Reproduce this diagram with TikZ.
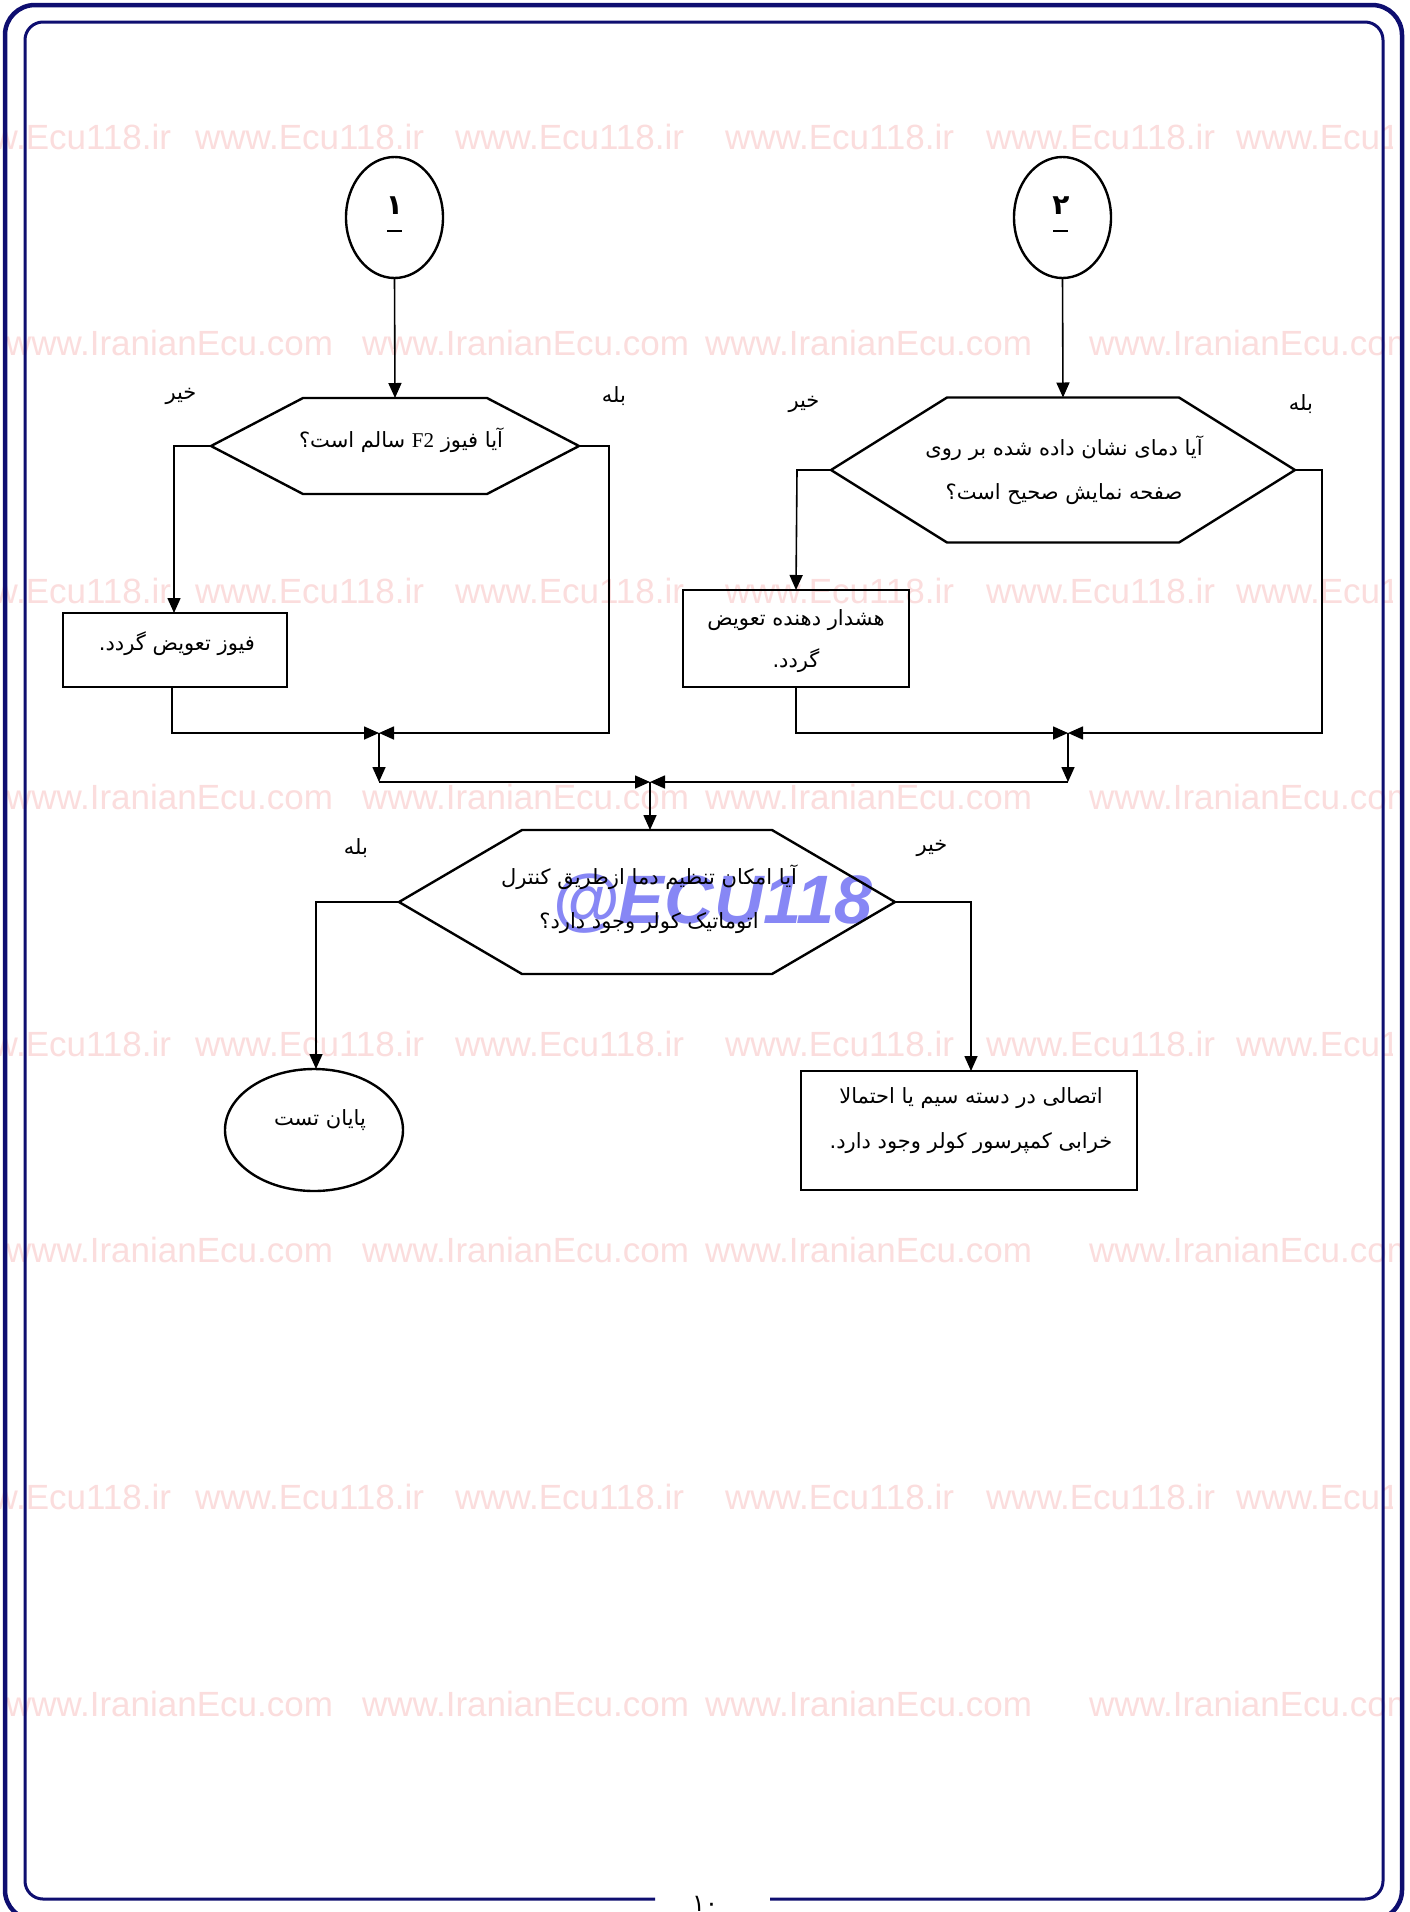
\documentclass[tikz,border=0pt]{standalone}
\usepackage{fontspec}
\usetikzlibrary{arrows.meta,calc,shapes.geometric}
\TeXXeTstate=1
\newfontfamily\fa[Script=Arabic]{DejaVu Sans}
\newfontfamily\wmf{Liberation Sans}
\newfontfamily\latf{Liberation Serif}
\newcommand\rtl[1]{{\fa\beginR #1\endR}}
\definecolor{navy}{RGB}{14,14,112}
\definecolor{wmpink}{RGB}{251,221,221}
\definecolor{wmblue}{RGB}{135,135,245}
\newcommand\hexo[2]{\draw[shapeline] (#1.west) -- ($(#1.north west)+(#2,0)$) -- ($(#1.north east)+(-#2,0)$) -- (#1.east) -- ($(#1.south east)+(-#2,0)$) -- ($(#1.south west)+(#2,0)$) -- cycle;}
\begin{document}
\begin{tikzpicture}[x=1pt,y=-1pt,
  shapeline/.style={line width=2.4pt, line join=miter},
  conn/.style={line width=1.6pt},
  arr/.style={conn, -{Triangle[length=15pt,width=13pt]}},
  txt/.style={font=\fontsize{21}{44}\selectfont, align=center, inner sep=0pt},
  hexnode/.style={shape=rectangle, inner sep=0pt, outer sep=0pt},
  boxnode/.style={draw, shapeline, shape=rectangle, inner sep=0pt, outer sep=0pt},
  ellnode/.style={draw, line width=2.4pt, shape=ellipse, inner sep=0pt, outer sep=0pt},
  lbl/.style={font=\fontsize{21}{24}\selectfont, fill=white, inner sep=4pt},
  wm/.style={font=\wmf\fontsize{35}{40}\selectfont, text=wmpink, inner sep=0pt, anchor=base west},
  digit/.style={font=\fa\bfseries\fontsize{28}{30}\selectfont, inner sep=0pt},
]
\useasboundingbox (0,0) rectangle (1409,1912);
\fill[white] (0,0) rectangle (1409,1912);

% watermarks
\begin{scope}
\clip (0,0) rectangle (1392,1912);
\foreach \yy [count=\i] in {149.5,603,1056.5,1509.5}{
  \foreach \xx [count=\j] in {-58,195,455,725,986,1236}{
    \node[wm] (wa\i\j) at (\xx,\yy) {www.Ecu118.ir};
  }
}
\end{scope}
\begin{scope}
\clip (0,0) rectangle (1403,1912);
\foreach \yy [count=\i] in {355.5,809,1262.5,1716}{
  \foreach \xx [count=\j] in {6,362,705,1089}{
    \node[wm] (wb\i\j) at (\xx,\yy) {www.IranianEcu.com};
  }
}
\end{scope}
\node[font=\wmf\bfseries\itshape\fontsize{68.5}{70}\selectfont, text=wmblue, inner sep=0pt, anchor=base west] (ecu) at (552,923) {@ECU118};

% frame
\draw[navy, line width=4.5pt, rounded corners=30pt] (5,5) rectangle (1402,1920);
\draw[navy, line width=3pt, rounded corners=18pt] (770,1899) -- (1383,1899) -- (1383,22) -- (25,22) -- (25,1899) -- (655,1899);
\node[font=\fa\fontsize{24}{26}\selectfont, inner sep=0pt] (pg) at (705,1904) {۱۰};

% start circles
\node[ellnode, minimum width=97pt, minimum height=121pt] (c1) at (394.5,217.5) {};
\node[digit] (d1) at (394.5,206) {۱};
\draw[line width=2pt] (387,231) -- (402,231);
\node[ellnode, minimum width=97pt, minimum height=121pt] (c2) at (1062.5,217.5) {};
\node[digit] (d2) at (1061,206) {۲};
\draw[line width=2pt] (1053,231) -- (1068,231);

% decisions
\node[hexnode, minimum width=368pt, minimum height=96pt] (h1) at (395,446) {};
\hexo{h1}{92}
\node[txt] (t1) at (401,440) {\rtl{آیا فیوز {\latf\beginL F2\endL} سالم است؟}};
\node[hexnode, minimum width=464pt, minimum height=145pt] (h2) at (1063,470) {};
\hexo{h2}{116}
\node[txt] (t2) at (1064,470) {\rtl{آیا دمای نشان داده شده بر روی}\\\rtl{صفحه نمایش صحیح است؟}};
\node[hexnode, minimum width=496pt, minimum height=144pt] (h3) at (647,902) {};
\hexo{h3}{123}
\node[txt] (t3) at (649,899.5) {\rtl{آیا امکان تنظیم دما ازطریق کنترل}\\\rtl{اتوماتیک کولر وجود دارد؟}};

% boxes
\node[boxnode, minimum width=224pt, minimum height=74pt] (b1) at (175,650) {};
\node[txt] (tb1) at (177,644) {\rtl{فیوز تعویض گردد.}};
\node[boxnode, minimum width=226pt, minimum height=97pt] (b2) at (796,638.5) {};
\node[txt, font=\fontsize{21}{42}\selectfont] (tb2) at (796,641) {\rtl{هشدار دهنده تعویض}\\\rtl{گردد.}};
\node[boxnode, minimum width=336pt, minimum height=119pt] (b3) at (969,1130.5) {};
\node[txt, font=\fontsize{21}{45}\selectfont] (tb3) at (971,1120.5) {\rtl{اتصالی در دسته سیم یا احتمالا}\\\rtl{خرابی کمپرسور کولر وجود دارد.}};
\node[ellnode, minimum width=178pt, minimum height=122pt] (e1) at (314,1130) {};
\node[txt] (te1) at (320,1120) {\rtl{پایان تست}};

% labels
\node[lbl] (l1n) at (181,396) {\rtl{خیر}};
\node[lbl] (l1y) at (614,396) {\rtl{بله}};
\node[lbl] (l2n) at (804,404) {\rtl{خیر}};
\node[lbl] (l2y) at (1301,404) {\rtl{بله}};
\node[lbl] (l3y) at (356,848) {\rtl{بله}};
\node[lbl] (l3n) at (932,848) {\rtl{خیر}};

% junctions
\coordinate (j1) at (379,733);
\coordinate (j1b) at (379,782);
\coordinate (j2) at (1068,733);
\coordinate (j2b) at (1068,782);
\coordinate (j3) at (650,782);

% connectors
\draw[arr] (c1.south) -- (h1.north);
\draw[arr] (c2.south) -- (h2.north);
\draw[arr] (h1.west) -- (174,446) -- (174,613);
\draw[arr] (h1.east) -- (609,446) -- (609,733) -- (j1);
\draw[arr] ($(b1.south)+(-3,0)$) -- (172,733) -- (j1);
\draw[arr] (j1) -- (j1b);
\draw[arr] (j1b) -- (j3);
\draw[arr] (h2.west) -- (797,470) -- (b2.north);
\draw[arr] (b2.south) -- (796,733) -- (j2);
\draw[arr] (h2.east) -- (1322,470) -- (1322,733) -- (j2);
\draw[arr] (j2) -- (j2b);
\draw[arr] (j2b) -- (j3);
\draw[arr] (j3) -- (j3 |- h3.north);
\draw[arr] (h3.west) -- (316,902) -- (316,1069);
\draw[arr] (h3.east) -- (971,902) -- (971,1071);
\end{tikzpicture}
\end{document}
